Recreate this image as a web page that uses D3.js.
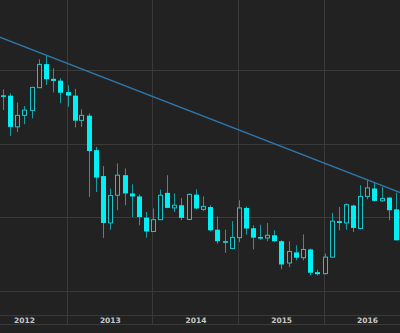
<!DOCTYPE html>
<html><head><meta charset="utf-8">
<script src="https://cdn.jsdelivr.net/npm/d3@7"></script>
<style>html,body{margin:0;padding:0;background:#222222;}svg{display:block;}</style>
</head><body>
<script>
const months = ["2012-04","2012-05","2012-06","2012-07","2012-08","2012-09","2012-10","2012-11","2012-12",
"2013-01","2013-02","2013-03","2013-04","2013-05","2013-06","2013-07","2013-08","2013-09","2013-10","2013-11","2013-12",
"2014-01","2014-02","2014-03","2014-04","2014-05","2014-06","2014-07","2014-08","2014-09","2014-10","2014-11","2014-12",
"2015-01","2015-02","2015-03","2015-04","2015-05","2015-06","2015-07","2015-08","2015-09","2015-10","2015-11","2015-12",
"2016-01","2016-02","2016-03","2016-04","2016-05","2016-06","2016-07","2016-08","2016-09","2016-10","2016-11"];
const open  = [1664,1663,1557,1596,1613,1690,1770,1720,1714,1675,1663,1579,1595,1478,1390,1231,1325,1393,1331,1321,1249,
1202,1242,1333,1282,1291,1243,1327,1277,1285,1208,1169,1144,1181,1282,1213,1183,1180,1189,1169,1095,1131,1113,1141,1064,
1059,1115,1237,1231,1290,1212,1321,1348,1306,1317,1277];
const high  = [1684,1671,1640,1628,1693,1786,1799,1756,1722,1698,1686,1617,1603,1489,1424,1348,1433,1416,1362,1328,1268,
1280,1344,1393,1331,1316,1331,1345,1321,1291,1253,1208,1237,1308,1287,1223,1225,1231,1206,1172,1169,1155,1192,1144,1072,
1127,1265,1285,1297,1293,1359,1376,1367,1353,1317,1334];
const low   = [1614,1526,1540,1566,1586,1689,1699,1674,1637,1625,1555,1557,1319,1336,1180,1208,1274,1291,1251,1223,1181,
1200,1241,1281,1268,1240,1240,1278,1271,1202,1161,1130,1142,1166,1191,1141,1174,1169,1167,1074,1081,1104,1104,1053,1053,
1056,1113,1206,1208,1200,1209,1311,1304,1302,1240,1172];
const close = [1662,1557,1596,1614,1691,1769,1719,1713,1673,1663,1578,1596,1475,1385,1231,1324,1393,1331,1321,1251,1202,
1242,1325,1282,1291,1248,1328,1280,1287,1206,1169,1166,1182,1282,1212,1181,1178,1189,1169,1090,1134,1113,1141,1062,1057,
1115,1237,1231,1293,1214,1321,1350,1306,1314,1274,1172];
const gridValues = [1000,1250,1500,1750,2000];
const yearTicks = ["2012","2013","2014","2015","2016"];
const trendDates = ["2011-09-01","2016-12-01"];
const trendValues = [1923,1330];

const W=400,H=333;
const parseM=d3.timeParse("%Y-%m"), parseD=d3.timeParse("%Y-%m-%d"), parseY=d3.timeParse("%Y");
const x=d3.scaleTime().domain([parseY("2013"),parseY("2016")]).range([67.5,324.5]);
const y=d3.scaleLinear().domain([1000,1750]).range([291,70]);
const data=months.map((m,i)=>({date:parseM(m),o:open[i],h:high[i],l:low[i],c:close[i]}));

const svg=d3.select("body").append("svg").attr("width",W).attr("height",H);
svg.append("rect").attr("width",W).attr("height",H).attr("fill","#222222");
const gridColor="#3a3a3a";
// horizontal grid
svg.append("g").selectAll("line").data(gridValues).join("line")
  .attr("x1",0).attr("x2",W)
  .attr("y1",d=>Math.round(y(d))+0.5).attr("y2",d=>Math.round(y(d))+0.5)
  .attr("stroke",gridColor).attr("stroke-width",1);
// axis band lines
svg.append("line").attr("x1",0).attr("x2",W).attr("y1",315.5).attr("y2",315.5).attr("stroke",gridColor);
svg.append("line").attr("x1",0).attr("x2",W).attr("y1",324.5).attr("y2",324.5).attr("stroke",gridColor);
// vertical grid at year starts
const yearStarts=d3.range(2012,2018).map(v=>parseY(String(v)));
svg.append("g").selectAll("line").data(yearStarts).join("line")
  .attr("x1",d=>Math.round(x(d))-0.5).attr("x2",d=>Math.round(x(d))-0.5)
  .attr("y1",0).attr("y2",324)
  .attr("stroke",gridColor).attr("stroke-width",1);
// year labels centered in year
svg.append("g").selectAll("text").data(yearTicks).join("text")
  .attr("x",d=>(x(parseY(d))+x(parseY(String(+d+1))))/2)
  .attr("y",323)
  .attr("text-anchor","middle")
  .attr("font-family","'DejaVu Sans', sans-serif").attr("font-weight","bold")
  .attr("font-size","7.5px").attr("fill","#c8c8c8")
  .text(d=>d);

// candles
const bw=5;
const g=svg.append("g");
const cx=d=>Math.round(x(d.date))+0.5;
g.selectAll("line.wick").data(data).join("line").attr("class","wick")
  .attr("x1",cx).attr("x2",cx)
  .attr("y1",d=>y(d.h)).attr("y2",d=>y(d.l))
  .attr("stroke","#169ea4").attr("stroke-width",1);
// down candles filled
g.selectAll("rect.down").data(data.filter(d=>d.c<=d.o)).join("rect").attr("class","down")
  .attr("x",d=>cx(d)-bw/2).attr("width",bw)
  .attr("y",d=>y(d.o)).attr("height",d=>Math.max(1.5,y(d.c)-y(d.o)))
  .attr("fill","#00f0f5");
// up candles hollow
g.selectAll("rect.up").data(data.filter(d=>d.c>d.o)).join("rect").attr("class","up")
  .attr("x",d=>cx(d)-bw/2+0.5).attr("width",bw-1)
  .attr("y",d=>y(d.c)).attr("height",d=>Math.max(1,y(d.o)-y(d.c)))
  .attr("fill","#222222").attr("stroke","#1ac6cc").attr("stroke-width",1);

// trend line
svg.append("path")
  .datum(trendDates.map((d,i)=>({date:parseD(d),v:trendValues[i]})))
  .attr("d",d3.line().x(d=>x(d.date)).y(d=>y(d.v)))
  .attr("fill","none").attr("stroke","#2f78ad").attr("stroke-width",1.3);
</script>
</body></html>
